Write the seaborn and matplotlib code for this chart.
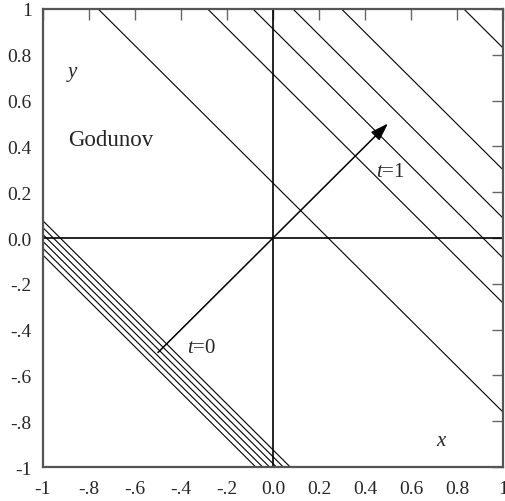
import numpy as np
import pandas as pd
import matplotlib
matplotlib.use("Agg")
import matplotlib.pyplot as plt
import seaborn as sns

# Characteristic lines x + y = c
initial_c = [-1.075, -1.045, -1.015, -0.985, -0.955, -0.925]   # t = 0 group
final_c = [0.24, 0.716, 0.913, 1.087, 1.298, 1.83]              # after Godunov, t = 1
arrow_start = (-0.5, -0.5)
arrow_end = (0.5, 0.5)
xtick_vals = [-1, -0.8, -0.6, -0.4, -0.2, 0.0, 0.2, 0.4, 0.6, 0.8, 1]
xtick_labels = ["-1", "-.8", "-.6", "-.4", "-.2", "0.0", "0.2", "0.4", "0.6", "0.8", "1"]
ytick_vals = xtick_vals
ytick_labels = xtick_labels

sns.set_theme(style="white")
plt.rcParams['font.family'] = ['Liberation Serif', 'DejaVu Serif']
plt.rcParams['mathtext.fontset'] = 'custom'
plt.rcParams['mathtext.rm'] = 'Liberation Serif'
plt.rcParams['mathtext.it'] = 'Liberation Serif:italic'

rows = []
for i, c in enumerate(list(initial_c) + list(final_c)):
    x0 = max(-1.0, c - 1.0)
    x1 = min(1.0, c + 1.0)
    rows.append({"line": i, "x": x0, "y": c - x0})
    rows.append({"line": i, "x": x1, "y": c - x1})
df = pd.DataFrame(rows)

fig = plt.figure(figsize=(5.05, 5.02), dpi=100)
ax = fig.add_axes([0.0851, 0.0677, 0.9109, 0.9124])

sns.lineplot(data=df, x="x", y="y", units="line", estimator=None, color="black",
             linewidth=0.8, ax=ax, sort=False)

ax.axhline(0, color="black", linewidth=1.2)
ax.axvline(0, color="black", linewidth=1.2)

ax.annotate("", xy=arrow_end, xytext=arrow_start,
            arrowprops=dict(arrowstyle="-|>,head_length=0.9,head_width=0.3",
                            color="black", lw=1.1, shrinkA=0, shrinkB=0))

ax.text(-0.375, -0.48, "$t$=0", fontsize=15, ha="left", va="center")
ax.text(0.45, 0.29, "$t$=1", fontsize=15, ha="left", va="center")
ax.text(-0.89, 0.43, "Godunov", fontsize=16.5, ha="left", va="center")
ax.text(-0.9, 0.72, "$y$", fontsize=15, ha="left", va="center")
ax.text(0.71, -0.885, "$x$", fontsize=15, ha="left", va="center")

ax.set_xlim(-1, 1)
ax.set_ylim(-1, 1)
ax.set_xticks(xtick_vals)
ax.set_xticklabels(xtick_labels)
ax.set_yticks(ytick_vals)
ax.set_yticklabels(ytick_labels)
ax.set_xlabel("")
ax.set_ylabel("")
ax.tick_params(direction="in", length=8, width=1, color="#666666",
               top=True, right=True, labelsize=14)
ax.tick_params(axis="x", pad=9)
ax.tick_params(axis="y", pad=8)
for s in ax.spines.values():
    s.set_color("#555555")
    s.set_linewidth(1.6)
    s.set_visible(True)

fig.savefig("out.png", dpi=100)
